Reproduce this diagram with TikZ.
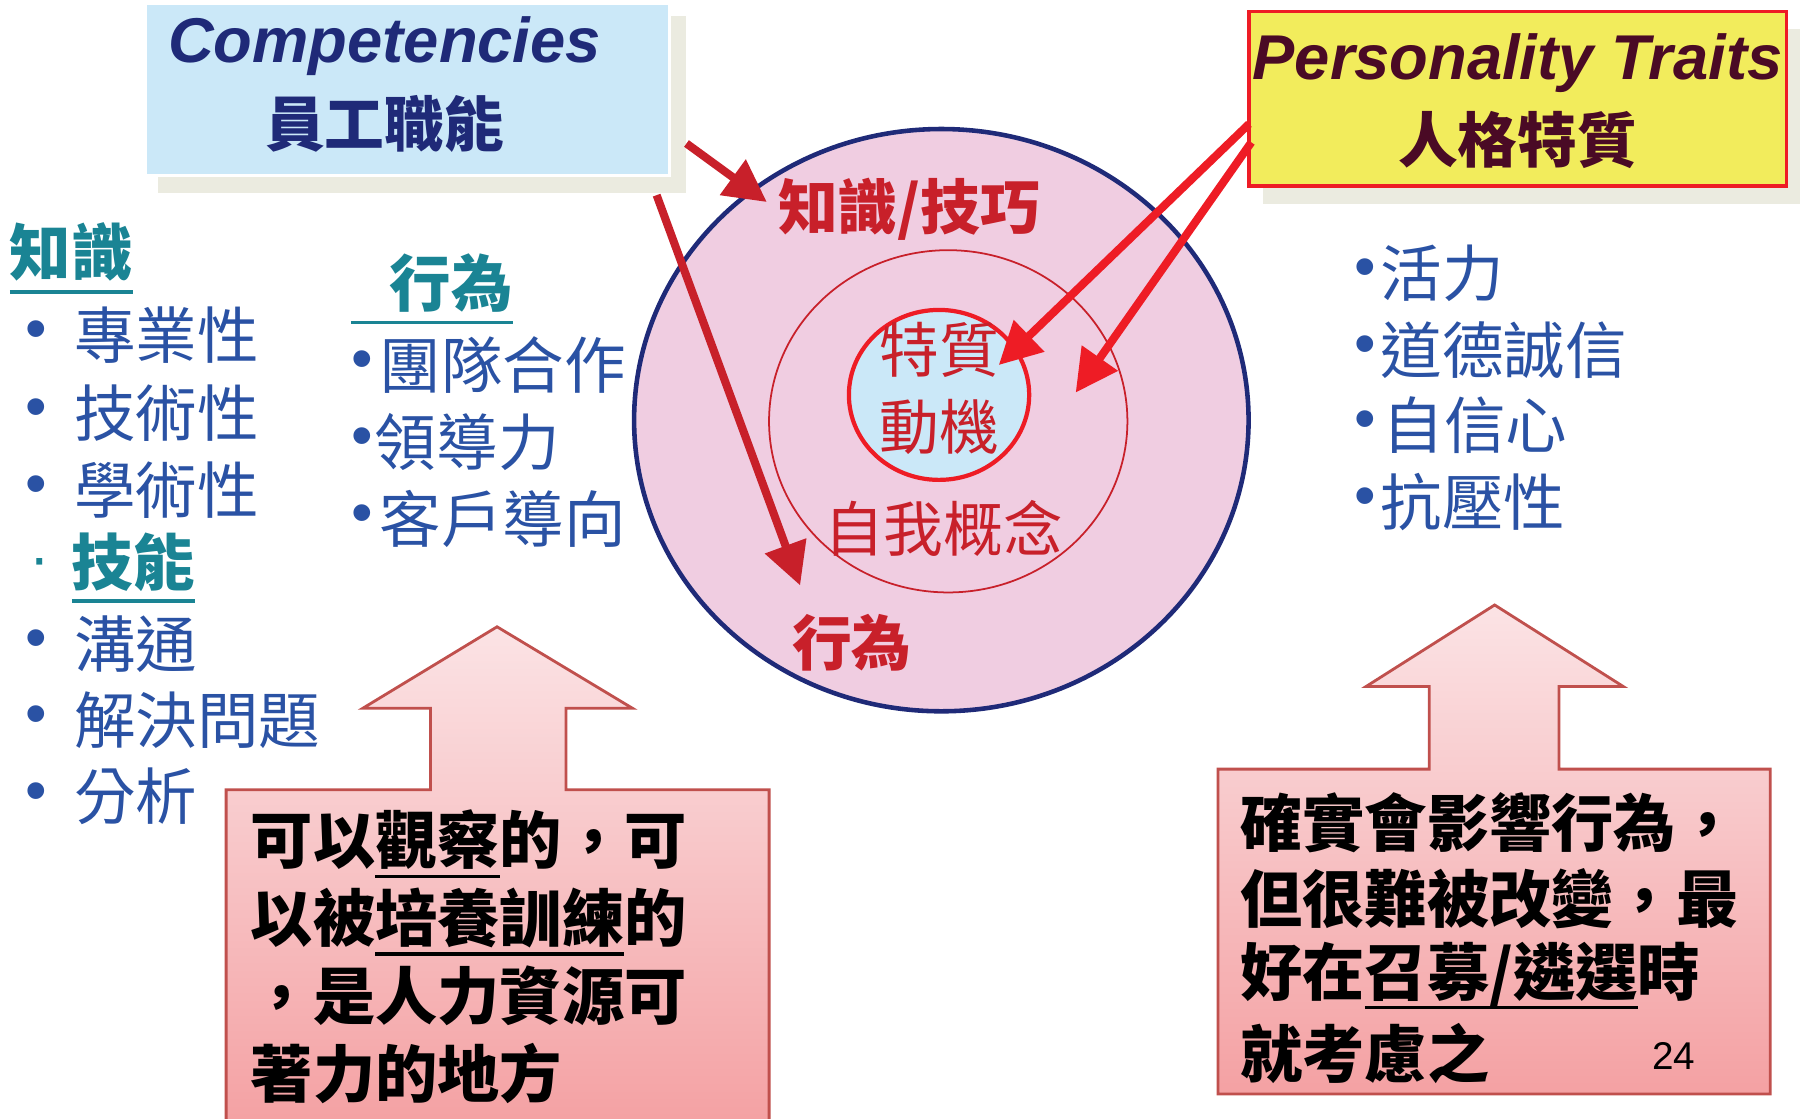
\documentclass[tikz,border=0pt]{standalone}
\usepackage{fontspec}
\setmainfont{Liberation Sans}
\newfontfamily\cjk{Noto Sans CJK TC}
\usetikzlibrary{arrows.meta,shapes.geometric}
\definecolor{navy}{HTML}{1F2A78}
\definecolor{compfill}{HTML}{CBE8F8}
\definecolor{shadowc}{HTML}{EBEBE0}
\definecolor{yel}{HTML}{F2EC5C}
\definecolor{brred}{HTML}{EE1C25}
\definecolor{dkred}{HTML}{C8202A}
\definecolor{maroon}{HTML}{4A0A25}
\definecolor{pinkc}{HTML}{F0CDE1}
\definecolor{teal}{HTML}{1A8494}
\definecolor{listblue}{HTML}{2A52A4}
\definecolor{calltop}{HTML}{FBE3E5}
\definecolor{callbot}{HTML}{F4A1A3}
\definecolor{callbd}{HTML}{C0504D}
\newcommand\ulx[3]{\setbox0\hbox{#3}\rlap{\rule[-#1]{\wd0}{#2}}\box0}
\begin{document}
\begin{tikzpicture}[x=0.01148cm,y=-0.01148cm,
  lst/.style={font=\cjk\fontsize{17.5}{20}\selectfont, text=listblue, anchor=west, inner sep=0pt},
  blt/.style={font=\fontsize{17.5}{20}\selectfont, text=listblue, inner sep=0pt},
  hd/.style={font=\cjk\bfseries\fontsize{17.5}{20}\selectfont, text=teal, anchor=west, inner sep=0pt},
  ctxt/.style={font=\cjk\bfseries\fontsize{17.7}{20}\selectfont, text=black, anchor=west, inner sep=0pt},
  rlab/.style={font=\cjk\fontsize{17}{20}\selectfont, text=dkred, inner sep=0pt},
  rlabb/.style={font=\cjk\bfseries\fontsize{17}{20}\selectfont, text=dkred, inner sep=0pt},
  thick arrow/.style={line width=2.3pt, -{Triangle[length=12pt,width=12pt]}},
  callout/.style={draw=callbd, line width=0.8pt, top color=calltop, bottom color=callbot, line join=miter}
]
\useasboundingbox (0,0) rectangle (1568,974);

% ---- title boxes ----
\fill[shadowc] (138,14) rectangle (598,168);
\node[fill=compfill, draw=white, line width=0.8pt, minimum width=5.235cm, minimum height=1.722cm, inner sep=0pt, outer sep=0pt] (comp) at (355,78) {};
\node[font=\bfseries\itshape\fontsize{18}{20}\selectfont, text=navy, inner sep=0pt] (compEn) at (335,40) {Competencies};
\node[font=\cjk\bfseries\fontsize{17}{20}\selectfont, text=navy, inner sep=0pt] (compZh) at (335,108) {員工職能};

\fill[shadowc] (1100,25) rectangle (1568,178);
\node[fill=yel, draw=brred, line width=1pt, minimum width=5.373cm, minimum height=1.745cm, inner sep=0pt, outer sep=0pt] (pers) at (1322,86) {};
\node[font=\bfseries\itshape\fontsize{18}{20}\selectfont, text=maroon, inner sep=0pt] (persEn) at (1322,55) {Personality Traits};
\node[font=\cjk\bfseries\fontsize{17}{20}\selectfont, text=maroon, inner sep=0pt] (persZh) at (1322,122) {人格特質};

% ---- circles ----
\node[ellipse, fill=pinkc, draw=navy, line width=1.3pt, minimum width=6.142cm, minimum height=5.82cm, inner sep=0pt] (outer) at (820,366) {};
\node[ellipse, draw=dkred, line width=0.5pt, minimum width=3.582cm, minimum height=3.421cm, inner sep=0pt] (middle) at (826,367) {};
\node[ellipse, fill=compfill, draw=brred, line width=1.2pt, minimum width=1.802cm, minimum height=1.699cm, inner sep=0pt] (inner) at (818,344) {};

\node[rlabb] (ks) at (792,182) {知識/技巧};
\node[rlab] (trait) at (818,305) {特質};
\node[rlab] (motive) at (818,372) {動機};
\node[rlab] (self) at (822,460) {自我概念};
\node[rlabb] (beh) at (742,560) {行為};

% ---- arrows ----
\coordinate (a1s) at (598,125);
\coordinate (a1e) at (668,176);
\coordinate (a2s) at (572,170);
\coordinate (a2e) at (697,510);
\coordinate (a3s) at (1088,108);
\coordinate (a3e) at (870,318);
\coordinate (a4s) at (1090,124);
\coordinate (a4e) at (937,342);
\draw[thick arrow, dkred] (a1s) -- (a1e);
\draw[thick arrow, dkred] (a2s) -- (a2e);
\draw[thick arrow, brred] (a3s) -- (a3e);
\draw[thick arrow, brred] (a4s) -- (a4e);

% ---- left list ----
\node[hd] (hk) at (8,225) {\ulx{5pt}{1.1pt}{知識}};
\node[blt] (b1) at (32,292) {•};
\node[lst] (l1) at (64,292) {專業性};
\node[blt] (b2) at (32,360) {•};
\node[lst] (l2) at (64,360) {技術性};
\node[blt] (b3) at (32,427) {•};
\node[lst] (l3) at (64,427) {學術性};
\node[blt, text=teal] (b4) at (35,495) {·};
\node[hd] (hs) at (62,495) {\ulx{5pt}{1.1pt}{技能}};
\node[blt] (b5) at (32,561) {•};
\node[lst] (l5) at (64,561) {溝通};
\node[blt] (b6) at (32,627) {•};
\node[lst] (l6) at (64,627) {解決問題};
\node[blt] (b7) at (32,694) {•};
\node[lst] (l7) at (64,694) {分析};

% ---- middle list ----
\node[hd] (hb) at (305,252) {\ulx{5pt}{1.1pt}{\hspace{11pt}行為}};
\node[blt] (m1b) at (316,318) {•};
\node[lst] (m1) at (330,318) {團隊合作};
\node[blt] (m2b) at (316,385) {•};
\node[lst] (m2) at (326,385) {領導力};
\node[blt] (m3b) at (316,452) {•};
\node[lst] (m3) at (330,452) {客戶導向};

% ---- right list ----
\node[blt] (r1b) at (1189,238) {•};
\node[lst] (r1) at (1202,238) {活力};
\node[blt] (r2b) at (1189,305) {•};
\node[lst] (r2) at (1202,305) {道德誠信};
\node[blt] (r3b) at (1189,370) {•};
\node[lst] (r3) at (1204,370) {自信心};
\node[blt] (r4b) at (1189,437) {•};
\node[lst] (r4) at (1202,437) {抗壓性};

% ---- callouts ----
\path[callout] (197,688) -- (375,688) -- (375,617) -- (316,617) -- (433,546) -- (551,617) -- (493,617) -- (493,688) -- (670,688) -- (670,980) -- (197,980) -- cycle;
\node[ctxt] (c1) at (218,735) {可以\ulx{4pt}{0.9pt}{觀察}的，可};
\node[ctxt] (c2) at (218,803) {以被\ulx{4pt}{0.9pt}{培養訓練}的};
\node[ctxt] (c3) at (218,867) {，是人力資源可};
\node[ctxt] (c4) at (218,935) {著力的地方};

\path[callout] (1061,670) -- (1245,670) -- (1245,598) -- (1190,598) -- (1302,527) -- (1414,598) -- (1358,598) -- (1358,670) -- (1542,670) -- (1542,953) -- (1061,953) -- cycle;
\node[ctxt] (d1) at (1080,717) {確實會影響行為，};
\node[ctxt] (d2) at (1080,783) {但很難被改變，最};
\node[ctxt] (d3) at (1080,850) {好在\ulx{4pt}{0.9pt}{召募/遴選}時};
\node[ctxt] (d4) at (1080,918) {就考慮之};
\node[font=\fontsize{11}{12}\selectfont, inner sep=0pt] (pg) at (1458,920) {24};
\end{tikzpicture}
\end{document}
